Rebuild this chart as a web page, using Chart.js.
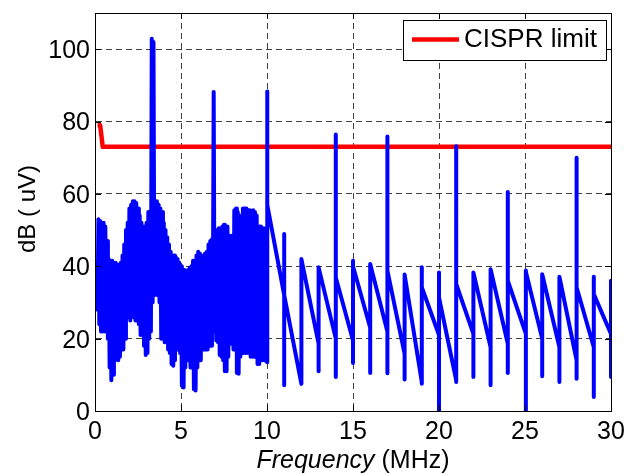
<!DOCTYPE html>
<html>
<head>
<meta charset="utf-8">
<script src="https://cdn.jsdelivr.net/npm/chart.js@4/dist/chart.umd.min.js"></script>
<style>
  html, body { margin: 0; padding: 0; background: #fff; }
  #wrap { width: 637px; height: 474px; position: relative; }
</style>
</head>
<body>
<div id="wrap"><canvas id="c"></canvas></div>
<script>
// ---------- data ----------
const xTicks = [0, 5, 10, 15, 20, 25, 30];
const yTicks = [0, 20, 40, 60, 80, 100];

// CISPR limit line
const limitFreq  = [0.15, 0.3, 0.45, 30];
const limitValue = [79, 79, 73, 73];

// dense part 0.15 - 10 MHz: upper samples at 0.2, 0.3, ... 9.9 MHz
const denseHighStart = 0.2;
const denseHigh = [
  53, 52.5, 51, 52, 51, 47, 42, 41, 41.5, 40,
  41, 40.5, 39, 41, 43, 46, 50, 52, 56, 57,
  58, 58, 57.5, 56, 54, 52, 51, 51, 52, 55,
  55, 102.9, 102, 57, 58, 57, 56, 55, 52, 50,
  48, 46, 44, 43, 43, 42.5, 42, 41, 40, 39,
  39, 38.5, 39, 39.5, 40, 41.5, 41, 43, 44, 43.5,
  42.5, 43, 43.5, 44, 46, 47, 47.5, 88.2, 49, 50,
  50.5, 50, 51, 51.5, 51, 51, 48.5, 48, 48.5, 55.5,
  56, 55, 47, 54, 56, 56, 56, 55.5, 55.5, 55,
  55.5, 55, 54, 51, 51, 50.5, 50.5, 45
];
// lower samples at 0.15, 0.25, ... 9.95 MHz
const denseLowStart = 0.15;
const denseLow = [
  28, 24, 22, 23, 22, 24, 20, 12, 8.5, 10,
  14, 14.5, 14, 15, 17, 17, 20, 26, 26, 25,
  26, 26, 25, 26, 24, 21, 21.5, 18, 15.5, 16,
  20, 22, 30, 32, 33, 32, 30, 20, 20, 19,
  19, 17, 16, 13, 12.5, 14, 17, 20, 16, 7,
  6.5, 12, 14, 14, 12, 12, 6, 5.7, 12, 14,
  14, 17, 17, 17, 17, 18, 18, 27, 22, 19.5,
  19, 15.5, 15, 14, 11, 11, 15, 18.6, 18.6, 17,
  17, 10.5, 10.3, 15, 16, 16, 16, 16, 16, 15,
  15, 15, 15, 13, 13, 14, 14, 14, 14
];
const denseStep = 0.1;

// sparse harmonic part 10 - 30 MHz
const tailFreq = [
  10, 10, 10.03,
  11, 11, 11, 11,
  12, 12,
  13, 13, 13,
  14, 14, 14, 14,
  15, 15, 15, 15,
  16, 16, 16,
  17, 17, 17, 17,
  18, 18, 18,
  19, 19, 19, 19,
  20, 20, 20, 20,
  21, 21, 21, 21,
  22, 22, 22,
  23, 23, 23,
  24, 24, 24, 24,
  25.05, 25.05, 25.05, 25.05,
  26, 26, 26,
  27, 27, 27,
  28, 28, 28, 28,
  29, 29, 29, 29,
  30, 30, 30
];
const tailValue = [
  13.5, 88.3, 57,
  32, 7.1, 48.9, 32,
  7.5, 42,
  18.6, 11, 39.7,
  20, 9.4, 76.4, 36.9,
  19.5, 13.3, 41.5, 40,
  23, 10.5, 40.6,
  22, 10.4, 75.9, 38.8,
  15.8, 8.7, 37.7,
  8, 7.5, 39.7, 34.2,
  21, 0, 38.3, 31.4,
  8.5, 8, 73.2, 35.1,
  21.3, 9.4, 38.3,
  17.6, 7.1, 39.2,
  18.6, 10.5, 60.5, 36,
  21.3, 0, 38.8, 38.5,
  20, 9.6, 37.8,
  17.6, 8, 37.1,
  14, 8.9, 70, 34.2,
  17.6, 3.9, 37.1, 32.3,
  21.3, 9.4, 36
];

// ---------- build point tables ----------
const spectrum = [];
for (let i = 0; i < denseLow.length; i++) {
  spectrum.push({ x: +(denseLowStart + i * denseStep).toFixed(3), y: denseLow[i] });
  if (i < denseHigh.length) {
    spectrum.push({ x: +(denseHighStart + i * denseStep).toFixed(3), y: denseHigh[i] });
  }
}
for (let i = 0; i < tailFreq.length; i++) {
  spectrum.push({ x: tailFreq[i], y: tailValue[i] });
}
const limit = limitFreq.map((f, i) => ({ x: f, y: limitValue[i] }));

const FONT = 'Liberation Sans, Arial, Helvetica, sans-serif';

const framePlugin = {
  id: 'frame',
  afterDatasetsDraw(chart) {
    const { ctx, chartArea: a, scales } = chart;
    ctx.save();
    ctx.strokeStyle = '#000';
    ctx.lineWidth = 1;
    ctx.setLineDash([]);
    // box
    ctx.strokeRect(Math.round(a.left) + 0.5, Math.round(a.top) + 0.5,
                   Math.round(a.right - a.left), Math.round(a.bottom - a.top));
    // inner ticks
    const tl = 6;
    ctx.beginPath();
    xTicks.forEach(v => {
      const px = Math.round(scales.x.getPixelForValue(v)) + 0.5;
      ctx.moveTo(px, a.bottom); ctx.lineTo(px, a.bottom - tl);
      ctx.moveTo(px, a.top); ctx.lineTo(px, a.top + tl);
    });
    yTicks.forEach(v => {
      const py = Math.round(scales.y.getPixelForValue(v)) + 0.5;
      ctx.moveTo(a.left, py); ctx.lineTo(a.left + tl, py);
      ctx.moveTo(a.right, py); ctx.lineTo(a.right - tl, py);
    });
    ctx.stroke();
    ctx.restore();
  },
  afterDraw(chart) {
    const { ctx, chartArea: a } = chart;
    ctx.save();
    // legend box
    const lx = 403, ly = 20, lw = 203, lh = 40;
    ctx.fillStyle = '#fff';
    ctx.fillRect(lx, ly, lw, lh);
    ctx.strokeStyle = '#000';
    ctx.lineWidth = 1;
    ctx.strokeRect(lx + 0.5, ly + 0.5, lw, lh);
    const ds = chart.data.datasets[1];
    ctx.strokeStyle = ds.borderColor;
    ctx.lineWidth = ds.borderWidth;
    ctx.beginPath();
    ctx.moveTo(412, 39.5); ctx.lineTo(459, 39.5);
    ctx.stroke();
    ctx.fillStyle = '#000';
    ctx.font = '26px ' + FONT;
    ctx.textBaseline = 'middle';
    ctx.textAlign = 'left';
    ctx.fillText(ds.label, 464, 40);

    // x title: italic "Frequency" + " (MHz)"
    const cx = (a.left + a.right) / 2;
    const part1 = 'Frequency', part2 = ' (MHz)';
    ctx.font = 'italic 25px ' + FONT;
    const w1 = ctx.measureText(part1).width;
    ctx.font = '25px ' + FONT;
    const w2 = ctx.measureText(part2).width;
    const sx = cx - (w1 + w2) / 2;
    ctx.textBaseline = 'alphabetic';
    ctx.font = 'italic 25px ' + FONT;
    ctx.fillText(part1, sx, 468);
    ctx.font = '25px ' + FONT;
    ctx.fillText(part2, sx + w1, 468);

    // y title rotated
    ctx.translate(35, (a.top + a.bottom) / 2 - 3);
    ctx.rotate(-Math.PI / 2);
    ctx.textAlign = 'center';
    ctx.textBaseline = 'alphabetic';
    ctx.font = '24px ' + FONT;
    ctx.fillText('dB ( uV)', 0, 0);
    ctx.restore();
  }
};

new Chart(document.getElementById('c'), {
  type: 'line',
  data: {
    datasets: [
      {
        label: 'Spectrum',
        data: spectrum,
        borderColor: '#0000ff',
        backgroundColor: '#0000ff',
        borderWidth: 4,
        pointRadius: 0,
        tension: 0,
        borderJoinStyle: 'round',
        borderCapStyle: 'round',
        fill: false
      },
      {
        label: 'CISPR limit',
        data: limit,
        borderColor: '#ff0000',
        backgroundColor: '#ff0000',
        borderWidth: 4.5,
        pointRadius: 0,
        tension: 0,
        borderJoinStyle: 'round',
        borderCapStyle: 'butt',
        fill: false
      }
    ]
  },
  options: {
    responsive: true,
    maintainAspectRatio: false,
    animation: false,
    events: [],
    layout: { padding: { top: 13, right: 26, left: 0, bottom: 0 } },
    plugins: {
      legend: { display: false },
      tooltip: { enabled: false },
      title: { display: false }
    },
    scales: {
      x: {
        type: 'linear',
        min: 0, max: 30,
        afterBuildTicks: s => { s.ticks = xTicks.map(v => ({ value: v })); },
        afterFit: s => { s.height = 63; s.paddingLeft = 0; s.paddingRight = 0; },
        ticks: {
          color: '#000',
          font: { family: FONT, size: 25 },
          padding: 6,
          maxRotation: 0,
          autoSkip: false
        },
        grid: {
          color: 'rgba(0,0,0,0.75)',
          lineWidth: 1,
          drawTicks: false
        },
        border: { display: true, color: '#000', width: 1, dash: [6, 4] }
      },
      y: {
        type: 'linear',
        min: 0, max: 110,
        afterBuildTicks: s => { s.ticks = yTicks.map(v => ({ value: v })); },
        afterFit: s => { s.width = 95; s.paddingTop = 0; s.paddingBottom = 0; },
        ticks: {
          color: '#000',
          font: { family: FONT, size: 25 },
          padding: 5,
          labelOffset: 2,
          autoSkip: false
        },
        grid: {
          color: 'rgba(0,0,0,0.75)',
          lineWidth: 1,
          drawTicks: false
        },
        border: { display: true, color: '#000', width: 1, dash: [6, 4] }
      }
    }
  },
  plugins: [framePlugin]
});
</script>
</body>
</html>
